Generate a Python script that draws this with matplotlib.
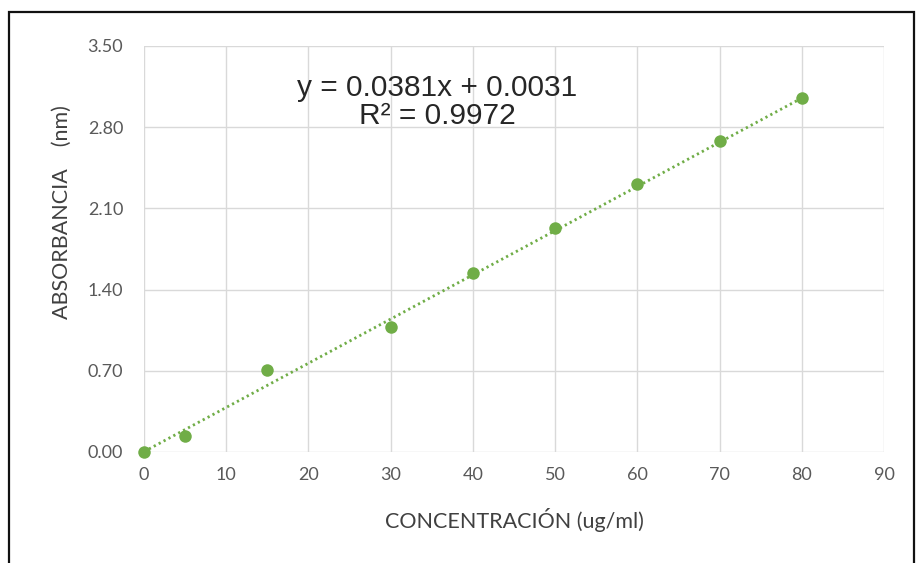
import numpy as np
import matplotlib.pyplot as plt
from matplotlib.patches import Rectangle

# concentration (ug/ml) and absorbance
concentracion = [0, 5, 15, 30, 40, 50, 60, 70, 80]
absorbancia = [0.00, 0.14, 0.71, 1.08, 1.54, 1.93, 2.31, 2.68, 3.05]

pendiente = 0.0381
intercepto = 0.0031
r2 = 0.9972

y_ticks = [0.00, 0.70, 1.40, 2.10, 2.80, 3.50]
x_ticks = [0, 10, 20, 30, 40, 50, 60, 70, 80, 90]

verde = '#70AD47'
gris = '#595959'

fig = plt.figure(figsize=(9.16, 5.63), dpi=100)
ax = fig.add_axes([144 / 916, 1 - 452 / 563, 740 / 916, 406 / 563])

# trend line
xt = np.array([min(concentracion), max(concentracion)])
ax.plot(xt, pendiente * xt + intercepto, color=verde, lw=2.0,
        linestyle=(0, (0.8, 1.2)), zorder=2)
ax.plot(concentracion, absorbancia, 'o', color=verde, markersize=9,
        markeredgewidth=0, zorder=3, clip_on=False)

ax.set_xlim(0, 90)
ax.set_ylim(0, 3.5)
ax.set_xticks(x_ticks)
ax.set_yticks(y_ticks)
ax.set_yticklabels([f'{v:.2f}' for v in y_ticks])
ax.grid(True, color='#d9d9d9', lw=1.0)
ax.set_axisbelow(True)
for s in ax.spines.values():
    s.set_visible(False)
ax.tick_params(length=0, labelsize=13, labelcolor=gris)
ax.tick_params(axis='y', pad=15)
ax.tick_params(axis='x', pad=11)
for lab in ax.get_xticklabels() + ax.get_yticklabels():
    lab.set_family('Lato')

ax.set_xlabel('CONCENTRACIÓN (ug/ml)', fontsize=15.5, color='#404040',
              family='Lato', labelpad=18)
ax.set_ylabel('ABSORBANCIA    (nm)', fontsize=15.5, color='#404040',
              family='Lato')
ax.yaxis.set_label_coords(-0.097, 0.59)

ax.text(437 / 916, 1 - 102 / 563,
        f'y = {pendiente}x + {intercepto}\nR² = {r2}',
        transform=fig.transFigure, ha='center', va='center',
        fontsize=21.5, family='Liberation Sans', color='#262626',
        linespacing=1.0)

# frame around the chart
fig.patches.append(Rectangle((9 / 916, -0.05), 905 / 916, 1.05 - 12 / 563,
                             transform=fig.transFigure, fill=False,
                             edgecolor='#111111', lw=1.6))

fig.savefig('out.png', dpi=100)
